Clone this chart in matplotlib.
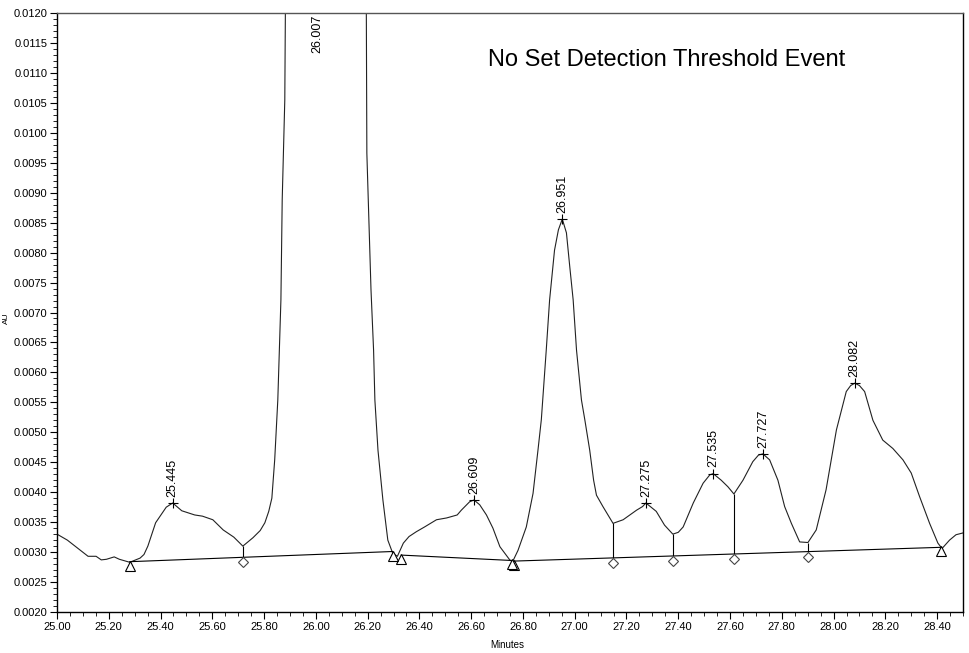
import numpy as np
import matplotlib
matplotlib.use("Agg")
import matplotlib.pyplot as plt
from matplotlib.ticker import MultipleLocator, FormatStrFormatter
from matplotlib.transforms import offset_copy

plt.rcParams['font.family'] = ['Liberation Sans', 'DejaVu Sans']

# chromatogram trace (minutes, AU)
time = [25.000, 25.040, 25.090, 25.120, 25.151, 25.171, 25.191, 25.221, 25.241, 25.281,
        25.321, 25.336, 25.351, 25.381, 25.422, 25.447, 25.482, 25.532, 25.562, 25.602, 25.642,
        25.683, 25.718, 25.757, 25.785, 25.803, 25.818, 25.830, 25.841, 25.853, 25.865, 25.870, 25.880,
        25.883, 26.007, 26.194, 26.195, 26.197, 26.205, 26.213, 26.223, 26.228, 26.240,
        26.259, 26.278, 26.297, 26.315, 26.338, 26.360, 26.388, 26.420, 26.466, 26.505, 26.546,
        26.562, 26.594, 26.611, 26.633, 26.659, 26.684, 26.711, 26.749, 26.760, 26.781,
        26.813, 26.839, 26.858, 26.871, 26.890, 26.903, 26.922, 26.937, 26.952, 26.968,
        26.981, 26.994, 27.007, 27.026, 27.039, 27.058, 27.073, 27.084, 27.109, 27.148,
        27.187, 27.239, 27.262, 27.275, 27.315, 27.347, 27.379, 27.400, 27.419, 27.458, 27.496,
        27.522, 27.535, 27.566, 27.592, 27.615, 27.650, 27.688, 27.710, 27.727, 27.753, 27.785,
        27.811, 27.837, 27.869, 27.901, 27.933, 27.971, 28.011, 28.049, 28.066, 28.082, 28.100, 28.120,
        28.152, 28.190, 28.229, 28.268, 28.300, 28.332, 28.371, 28.403, 28.419, 28.448,
        28.473, 28.500]
signal = [0.00330, 0.00320, 0.00303, 0.00293, 0.00293, 0.00287, 0.00288, 0.00292, 0.00288, 0.00283,
          0.00290, 0.00296, 0.00310, 0.00349, 0.00375, 0.00382, 0.00369, 0.00362, 0.00360, 0.00354, 0.00337,
          0.00325, 0.00310, 0.00324, 0.00336, 0.00349, 0.00368, 0.00390, 0.00454, 0.00554, 0.00721, 0.00888, 0.01055,
          0.01250, 0.02000, 0.01250, 0.01200, 0.00966, 0.00849, 0.00738, 0.00637, 0.00554, 0.00470,
          0.00387, 0.00320, 0.00298, 0.00293, 0.00315, 0.00326, 0.00334, 0.00342, 0.00354, 0.00357, 0.00362,
          0.00370, 0.00384, 0.00387, 0.00379, 0.00362, 0.00340, 0.00309, 0.00287, 0.00284, 0.00303,
          0.00342, 0.00398, 0.00470, 0.00521, 0.00637, 0.00721, 0.00804, 0.00838, 0.00856, 0.00833,
          0.00776, 0.00721, 0.00637, 0.00554, 0.00521, 0.00470, 0.00420, 0.00395, 0.00376, 0.00348,
          0.00354, 0.00370, 0.00376, 0.00382, 0.00368, 0.00345, 0.00330, 0.00333, 0.00342, 0.00382, 0.00415,
          0.00429, 0.00431, 0.00420, 0.00409, 0.00397, 0.00420, 0.00451, 0.00462, 0.00464, 0.00454, 0.00420,
          0.00376, 0.00348, 0.00317, 0.00316, 0.00337, 0.00404, 0.00504, 0.00568, 0.00578, 0.00582, 0.00578, 0.00568,
          0.00520, 0.00487, 0.00473, 0.00454, 0.00432, 0.00393, 0.00348, 0.00315, 0.00306, 0.00320,
          0.00329, 0.00332]

# labelled peaks
peak_time = [25.447, 26.611, 26.952, 27.275, 27.535, 27.727, 28.082]
peak_height = [0.00382, 0.00387, 0.00856, 0.00382, 0.00431, 0.00464, 0.00582]
peak_label = ["25.445", "26.609", "26.951", "27.275", "27.535", "27.727", "28.082"]
big_peak_time = 26.007
big_peak_label = "26.007"

# baselines (start, end)
base_t0 = [25.281, 26.330, 26.766]
base_v0 = [0.00284, 0.00295, 0.00285]
base_t1 = [26.297, 26.757, 28.416]
base_v1 = [0.00301, 0.00286, 0.00308]

# drop lines at valleys
drop_time = [25.718, 27.148, 27.379, 27.615, 27.901]
drop_top = [0.00310, 0.00348, 0.00330, 0.00397, 0.00316]

fig = plt.figure(figsize=(9.69, 6.53), dpi=100)
ax = fig.add_axes([57 / 969, 41 / 653, 906 / 969, 599 / 653])

ax.plot(time, signal, color="#222222", lw=0.8)

for t0, v0, t1, v1 in zip(base_t0, base_v0, base_t1, base_v1):
    ax.plot([t0, t1], [v0, v1], color="black", lw=0.8)

# baseline value under each drop line
drop_base = []
for t in drop_time:
    for t0, v0, t1, v1 in zip(base_t0, base_v0, base_t1, base_v1):
        if t0 <= t <= t1:
            drop_base.append(np.interp(t, [t0, t1], [v0, v1]))
ax.vlines(drop_time, drop_base, drop_top, color="black", lw=0.8)

tri_trans = offset_copy(ax.transData, fig=fig, y=-4, units="dots")
dia_trans = offset_copy(ax.transData, fig=fig, y=-5, units="dots")
ax.plot(base_t0 + base_t1, base_v0 + base_v1, ls="none", marker="^", ms=7,
        mfc="white", mec="black", mew=0.8, transform=tri_trans)
ax.plot(drop_time, drop_base, ls="none", marker="D", ms=5,
        mfc="white", mec="#444444", mew=0.8, transform=dia_trans)

ax.plot(peak_time, peak_height, ls="none", marker="+", ms=7, mew=0.8, color="black")
for t, v, lab in zip(peak_time, peak_height, peak_label):
    ax.annotate(lab, (t, v), xytext=(0, 4.5), textcoords="offset points",
                rotation=90, ha="center", va="bottom", fontsize=9)
ax.annotate(big_peak_label, (big_peak_time, 0.0120), xytext=(0, -1.5),
            textcoords="offset points", rotation=90, ha="center", va="top", fontsize=9)

ax.text(0.673, 0.9215, "No Set Detection Threshold Event", transform=ax.transAxes,
        ha="center", va="center", fontsize=17)

ax.set_xlim(25.0, 28.50)
ax.set_ylim(0.0020, 0.0120)
ax.xaxis.set_major_locator(MultipleLocator(0.2))
ax.xaxis.set_minor_locator(MultipleLocator(0.05))
ax.xaxis.set_major_formatter(FormatStrFormatter("%.2f"))
ax.yaxis.set_major_locator(MultipleLocator(0.0005))
ax.yaxis.set_minor_locator(MultipleLocator(0.0001))
ax.yaxis.set_major_formatter(FormatStrFormatter("%.4f"))
ax.tick_params(which="major", length=5, width=0.8, labelsize=8, pad=2)
ax.tick_params(which="minor", length=3, width=0.6)

for s in ax.spines.values():
    s.set_linewidth(1.0)
ax.spines["top"].set_color("#555555")

ax.set_xlabel("Minutes", fontsize=7)
ax.xaxis.set_label_coords(0.497, -0.046)
ax.set_ylabel("AU", fontsize=6)
ax.yaxis.set_label_coords(-0.052, 0.49)

fig.savefig("out.png", dpi=100)
